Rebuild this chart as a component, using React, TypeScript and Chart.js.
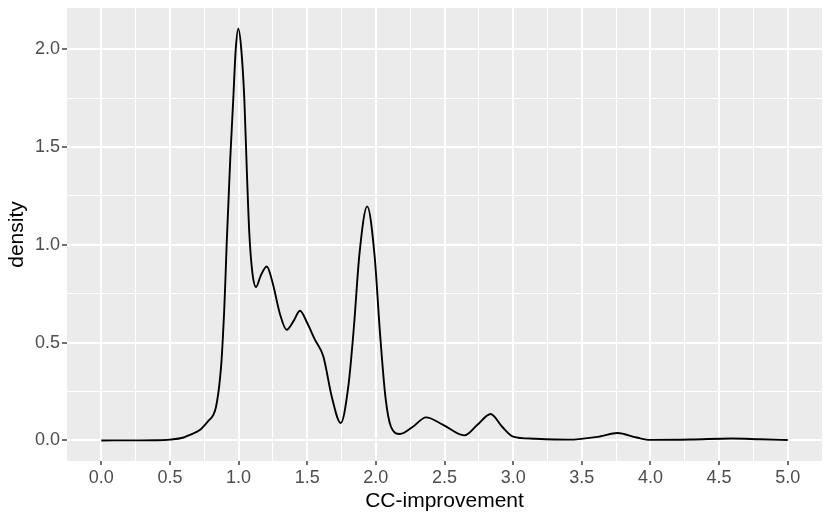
import React, { useEffect, useRef } from "react";
import { Chart, registerables } from "chart.js";

Chart.register(...registerables);

// Density curve (x = CC-improvement, y = density)
const xValues = [
  0, 0.25, 0.4, 0.5, 0.6, 0.646, 0.72, 0.78, 0.816, 0.835, 0.852, 0.865, 0.875, 0.885,
  0.895, 0.905, 0.913, 0.925, 0.94, 0.961, 0.979, 0.998, 1.02, 1.042, 1.06, 1.078, 1.1,
  1.127, 1.16, 1.205, 1.25, 1.3, 1.35, 1.4, 1.447, 1.5, 1.556, 1.617, 1.68, 1.744, 1.8,
  1.84, 1.88, 1.937, 1.99, 2.03, 2.07, 2.11, 2.175, 2.27, 2.365, 2.49, 2.644, 2.74, 2.836,
  2.92, 3.0, 3.15, 3.4, 3.63, 3.76, 3.9, 4.0, 4.3, 4.59, 4.8, 5.0,
];
const densityValues = [
  0, 0.0005, 0.001, 0.004, 0.015, 0.029, 0.055, 0.1, 0.131, 0.17, 0.24, 0.32, 0.4, 0.52,
  0.66, 0.84, 1.0, 1.2, 1.45, 1.741, 1.996, 2.104, 1.996, 1.741, 1.38, 1.06, 0.86,
  0.784, 0.84, 0.889, 0.8, 0.65, 0.566, 0.61, 0.663, 0.6, 0.515, 0.43, 0.22, 0.089, 0.28,
  0.58, 0.95, 1.196, 0.95, 0.55, 0.22, 0.07, 0.033, 0.07, 0.118, 0.08, 0.026, 0.08, 0.135,
  0.07, 0.02, 0.009, 0.004, 0.02, 0.038, 0.015, 0.003, 0.005, 0.01, 0.006, 0.002,
];

const xTickValues = [0, 0.25, 0.5, 0.75, 1, 1.25, 1.5, 1.75, 2, 2.25, 2.5, 2.75, 3, 3.25, 3.5, 3.75, 4, 4.25, 4.5, 4.75, 5];
const xTickLabels = ["0.0", "", "0.5", "", "1.0", "", "1.5", "", "2.0", "", "2.5", "", "3.0", "", "3.5", "", "4.0", "", "4.5", "", "5.0"];
const yTickValues = [0, 0.25, 0.5, 0.75, 1, 1.25, 1.5, 1.75, 2];
const yTickLabels = ["0.0", "", "0.5", "", "1.0", "", "1.5", "", "2.0"];

const xTitle = "CC-improvement";
const yTitle = "density";

const panelBg = {
  id: "panelBg",
  beforeDraw(chart: any) {
    const { ctx, chartArea } = chart;
    ctx.save();
    ctx.fillStyle = "#EBEBEB";
    ctx.fillRect(chartArea.left, chartArea.top, chartArea.right - chartArea.left, chartArea.bottom - chartArea.top);
    ctx.restore();
  },
};

const FONT = "'Liberation Sans', Arial, Helvetica, sans-serif";

export default function App() {
  const ref = useRef<HTMLCanvasElement | null>(null);
  useEffect(() => {
    if (!ref.current) return;
    const data = xValues.map((x, i) => ({ x, y: densityValues[i] }));
    const isMajor = (labels: string[], values: number[], v: number) => {
      const i = values.findIndex((t) => Math.abs(t - v) < 1e-9);
      return i >= 0 && labels[i] !== "";
    };
    const chart = new Chart(ref.current, {
      type: "line",
      data: {
        datasets: [
          {
            data,
            borderColor: "#000000",
            borderWidth: 1.9,
            pointRadius: 0,
            fill: false,
            cubicInterpolationMode: "monotone",
          } as any,
        ],
      },
      plugins: [panelBg],
      options: {
        animation: false,
        responsive: false,
        maintainAspectRatio: false,
        layout: { padding: { left: 0, top: 8, right: 8, bottom: 0 } },
        plugins: { legend: { display: false }, tooltip: { enabled: false } },
        scales: {
          x: {
            type: "linear",
            min: -0.25,
            max: 5.25,
            afterBuildTicks: (scale: any) => {
              scale.ticks = xTickValues.map((v) => ({ value: v }));
            },
            afterFit: (scale: any) => {
              scale.height = 58;
              scale.paddingLeft = 0;
              scale.paddingRight = 0;
            },
            border: { display: false },
            grid: {
              color: "#FFFFFF",
              lineWidth: (ctx: any) => (isMajor(xTickLabels, xTickValues, ctx.tick?.value) ? 2 : 1),
              tickLength: 4,
              tickWidth: 1.4,
              tickColor: (ctx: any) =>
                isMajor(xTickLabels, xTickValues, ctx.tick?.value) ? "#333333" : "rgba(0,0,0,0)",
            },
            ticks: {
              autoSkip: false,
              maxRotation: 0,
              padding: 2,
              color: "#4D4D4D",
              font: { family: FONT, size: 18 },
              callback: (v: any) => {
                const i = xTickValues.findIndex((t) => Math.abs(t - Number(v)) < 1e-9);
                return i >= 0 ? xTickLabels[i] : "";
              },
            },
            title: {
              display: true,
              text: xTitle,
              color: "#000000",
              font: { family: FONT, size: 21 },
              padding: { top: 0, bottom: 5 },
            },
          },
          y: {
            type: "linear",
            min: -0.105,
            max: 2.21,
            afterBuildTicks: (scale: any) => {
              scale.ticks = yTickValues.map((v) => ({ value: v }));
            },
            afterFit: (scale: any) => {
              scale.width = 67;
              scale.paddingTop = 0;
              scale.paddingBottom = 0;
            },
            border: { display: false },
            grid: {
              color: "#FFFFFF",
              lineWidth: (ctx: any) => (isMajor(yTickLabels, yTickValues, ctx.tick?.value) ? 2 : 1),
              tickLength: 5,
              tickWidth: 1.4,
              tickColor: (ctx: any) =>
                isMajor(yTickLabels, yTickValues, ctx.tick?.value) ? "#333333" : "rgba(0,0,0,0)",
            },
            ticks: {
              autoSkip: false,
              padding: 2,
              color: "#4D4D4D",
              font: { family: FONT, size: 18 },
              callback: (v: any) => {
                const i = yTickValues.findIndex((t) => Math.abs(t - Number(v)) < 1e-9);
                return i >= 0 ? yTickLabels[i] : "";
              },
            },
            title: {
              display: true,
              text: yTitle,
              color: "#000000",
              font: { family: FONT, size: 21 },
              padding: { top: 5, bottom: 0 },
            },
          },
        },
      } as any,
    });
    return () => chart.destroy();
  }, []);
  return (
    <div style={{ position: "fixed", left: 0, top: 0, width: 830, height: 519, background: "#FFFFFF" }}>
      <canvas ref={ref} width={830} height={519} style={{ width: 830, height: 519, display: "block" }} />
    </div>
  );
}
